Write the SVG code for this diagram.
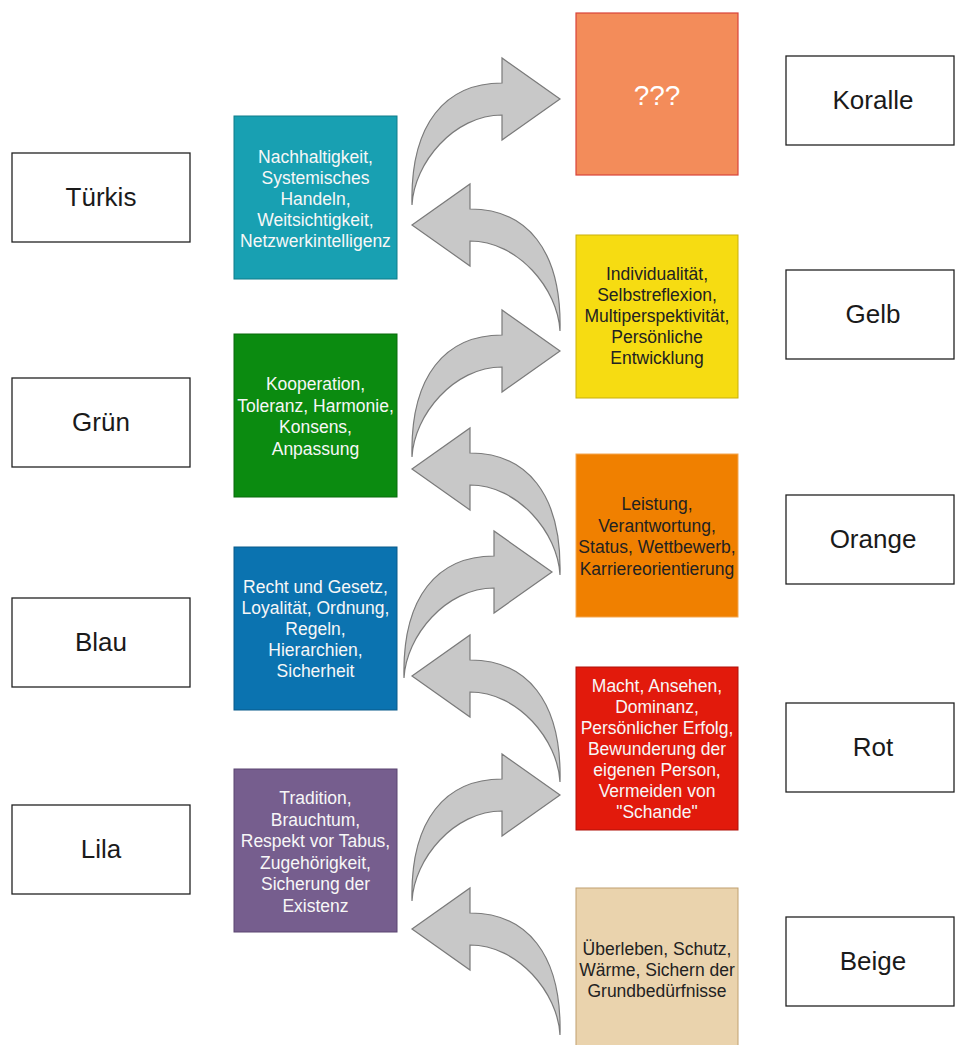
<svg xmlns="http://www.w3.org/2000/svg" xmlns:xlink="http://www.w3.org/1999/xlink" width="955" height="1045" viewBox="0 0 955 1045">
<style>
.lbl{fill:#ffffff;stroke:#222222;stroke-width:1.3}
.lt{font-family:"Liberation Sans",Arial,sans-serif;font-size:26px;fill:#1a1a1a;text-anchor:middle}
.bt{font-family:"Liberation Sans",Arial,sans-serif;font-size:17.5px;text-anchor:middle}
.w{fill:#f7f7f7}
.d{fill:#222222}
.arr{fill:#c8c8c8;stroke:#7a7a7a;stroke-width:1.2;stroke-linejoin:miter}
</style>
<defs>
<path id="arrowR" d="M0,0 L-58,-41 L-58,-16 C-114,-16 -150,24 -148,106 C-146,64 -106,16 -58,16 L-58,41 Z"/>
<path id="arrowL" d="M0,0 L58,-41 L58,-16 C114,-16 150,24 148,106 C146,64 106,16 58,16 L58,41 Z"/>
</defs>
<rect width="955" height="1045" fill="#ffffff"/>

<g id="connectors">
<use xlink:href="#arrowR" href="#arrowR" class="arr" transform="translate(560,99)"/>
<use xlink:href="#arrowL" href="#arrowL" class="arr" transform="translate(412,225)"/>
<use xlink:href="#arrowR" href="#arrowR" class="arr" transform="translate(560,351)"/>
<use xlink:href="#arrowL" href="#arrowL" class="arr" transform="translate(412,469)"/>
<use xlink:href="#arrowR" href="#arrowR" class="arr" transform="translate(552,572)"/>
<use xlink:href="#arrowL" href="#arrowL" class="arr" transform="translate(412,676)"/>
<use xlink:href="#arrowR" href="#arrowR" class="arr" transform="translate(560,795)"/>
<use xlink:href="#arrowL" href="#arrowL" class="arr" transform="translate(412,929)"/>
</g>

<!-- left labels -->
<g id="label-tuerkis"><rect class="lbl" x="12" y="153" width="178" height="89"/><text class="lt" x="101" y="206">Türkis</text></g>
<g id="label-gruen"><rect class="lbl" x="12" y="378" width="178" height="89"/><text class="lt" x="101" y="431">Grün</text></g>
<g id="label-blau"><rect class="lbl" x="12" y="598" width="178" height="89"/><text class="lt" x="101" y="651">Blau</text></g>
<g id="label-lila"><rect class="lbl" x="12" y="805" width="178" height="89"/><text class="lt" x="101" y="858">Lila</text></g>

<!-- right labels -->
<g id="label-koralle"><rect class="lbl" x="786" y="56" width="168" height="89"/><text class="lt" x="873" y="109">Koralle</text></g>
<g id="label-gelb"><rect class="lbl" x="786" y="270" width="168" height="89"/><text class="lt" x="873" y="323">Gelb</text></g>
<g id="label-orange"><rect class="lbl" x="786" y="495" width="168" height="89"/><text class="lt" x="873" y="548">Orange</text></g>
<g id="label-rot"><rect class="lbl" x="786" y="703" width="168" height="89"/><text class="lt" x="873" y="756">Rot</text></g>
<g id="label-beige"><rect class="lbl" x="786" y="917" width="168" height="89"/><text class="lt" x="873" y="970">Beige</text></g>

<!-- left color boxes -->
<g id="box-tuerkis">
<rect x="234" y="116" width="163" height="163" fill="#18a0b2" stroke="#0f7d8a" stroke-width="1"/>
<text class="bt w" x="315.5"><tspan x="315.5" y="163">Nachhaltigkeit,</tspan><tspan x="315.5" y="184">Systemisches</tspan><tspan x="315.5" y="205">Handeln,</tspan><tspan x="315.5" y="226">Weitsichtigkeit,</tspan><tspan x="315.5" y="247">Netzwerkintelligenz</tspan></text>
</g>
<g id="box-gruen">
<rect x="234" y="334" width="163" height="163" fill="#0b8b10" stroke="#086a0b" stroke-width="1"/>
<text class="bt w" x="315.5"><tspan x="315.5" y="390">Kooperation,</tspan><tspan x="315.5" y="411.5">Toleranz, Harmonie,</tspan><tspan x="315.5" y="433">Konsens,</tspan><tspan x="315.5" y="454.5">Anpassung</tspan></text>
</g>
<g id="box-blau">
<rect x="234" y="547" width="163" height="163" fill="#0b73b0" stroke="#085a8a" stroke-width="1"/>
<text class="bt w" x="315.5"><tspan x="315.5" y="593">Recht und Gesetz,</tspan><tspan x="315.5" y="614">Loyalität, Ordnung,</tspan><tspan x="315.5" y="635">Regeln,</tspan><tspan x="315.5" y="656">Hierarchien,</tspan><tspan x="315.5" y="677">Sicherheit</tspan></text>
</g>
<g id="box-lila">
<rect x="234" y="769" width="163" height="163" fill="#765e8e" stroke="#5a4570" stroke-width="1"/>
<text class="bt w" x="315.5"><tspan x="315.5" y="804">Tradition,</tspan><tspan x="315.5" y="825.5">Brauchtum,</tspan><tspan x="315.5" y="847">Respekt vor Tabus,</tspan><tspan x="315.5" y="868.5">Zugehörigkeit,</tspan><tspan x="315.5" y="890">Sicherung der</tspan><tspan x="315.5" y="911.5">Existenz</tspan></text>
</g>

<!-- right color boxes -->
<g id="box-koralle">
<rect x="576" y="13" width="162" height="162" fill="#f38c5a" stroke="#d9443a" stroke-width="1.2"/>
<text x="657" y="105" font-family="Liberation Sans, Arial, sans-serif" font-size="28" fill="#ffffff" text-anchor="middle">???</text>
</g>
<g id="box-gelb">
<rect x="576" y="235" width="162" height="163" fill="#f6dc12" stroke="#c9b00a" stroke-width="1"/>
<text class="bt d" x="657"><tspan x="657" y="280">Individualität,</tspan><tspan x="657" y="301">Selbstreflexion,</tspan><tspan x="657" y="322">Multiperspektivität,</tspan><tspan x="657" y="343">Persönliche</tspan><tspan x="657" y="364">Entwicklung</tspan></text>
</g>
<g id="box-orange">
<rect x="576" y="454" width="162" height="163" fill="#f08000" stroke="#f3a650" stroke-width="1"/>
<text class="bt d" x="657"><tspan x="657" y="510">Leistung,</tspan><tspan x="657" y="531.5">Verantwortung,</tspan><tspan x="657" y="553">Status, Wettbewerb,</tspan><tspan x="657" y="574.5">Karriereorientierung</tspan></text>
</g>
<g id="box-rot">
<rect x="576" y="667" width="162" height="163" fill="#e21a0c" stroke="#b01008" stroke-width="1"/>
<text class="bt w" x="657"><tspan x="657" y="692">Macht, Ansehen,</tspan><tspan x="657" y="713">Dominanz,</tspan><tspan x="657" y="734">Persönlicher Erfolg,</tspan><tspan x="657" y="755">Bewunderung der</tspan><tspan x="657" y="776">eigenen Person,</tspan><tspan x="657" y="797">Vermeiden von</tspan><tspan x="657" y="818">"Schande"</tspan></text>
</g>
<g id="box-beige">
<rect x="576" y="888" width="162" height="163" fill="#ead3ad" stroke="#c0a070" stroke-width="1"/>
<text class="bt d" x="657"><tspan x="657" y="955">Überleben, Schutz,</tspan><tspan x="657" y="976">Wärme, Sichern der</tspan><tspan x="657" y="997">Grundbedürfnisse</tspan></text>
</g>
</svg>
